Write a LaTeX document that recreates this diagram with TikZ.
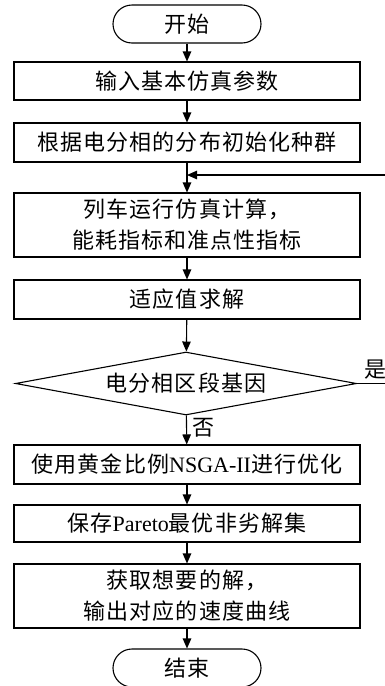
\documentclass[tikz,border=0pt]{standalone}
\usepackage{fontspec}
\setmainfont{Liberation Serif}
\newfontfamily\cjk[LetterSpace=5]{Noto Sans CJK SC}
\usetikzlibrary{shapes.geometric,arrows.meta}
\begin{document}
\begin{tikzpicture}[x=1pt,y=-1pt,
  every node/.style={font=\cjk\fontsize{22}{31}\selectfont},
  box/.style={draw, line width=1.1pt, minimum width=346pt, inner sep=0pt, align=center},
  term/.style={draw, line width=1.1pt, rounded corners=19pt, minimum width=148pt, minimum height=38pt, inner sep=0pt},
  dec/.style={draw, diamond, line width=1.1pt, aspect=5.4, minimum width=341pt, minimum height=63pt, inner sep=0pt},
  arr/.style={-{Triangle[length=10pt,width=8.5pt]}, line width=1.1pt},
  lbl/.style={inner sep=0pt}
]
\useasboundingbox (0,0) rectangle (385,686);
\clip (0,0) rectangle (385,686);
\node[term] (start) at (187,24) {开始};
\node[box, minimum height=38pt] (b1) at (187,81) {输入基本仿真参数};
\node[box, minimum height=39pt] (b2) at (187,142.5) {根据电分相的分布初始化种群};
\node[box, minimum height=64pt] (b3) at (187,225) {列车运行仿真计算，\\能耗指标和准点性指标};
\node[box, minimum height=39pt] (b4) at (187,299.5) {适应值求解};
\node[dec] (dia) at (186,383.5) {电分相区段基因};
\node[box, minimum height=39pt] (b5) at (187,464.5) {使用黄金比例{\rmfamily NSGA-II}进行优化};
\node[box, minimum height=37pt] (b6) at (187,523.5) {保存{\rmfamily Pareto}最优非劣解集};
\node[box, minimum height=64pt] (b7) at (187,596) {获取想要的解，\\输出对应的速度曲线};
\node[term] (end) at (187,668) {结束};
\coordinate (join) at (187,175);
\coordinate (rA) at (400,383.5);
\coordinate (rB) at (400,175);
\draw[arr] (start) -- (b1);
\draw[arr] (b1) -- (b2);
\draw[arr] (b2) -- (b3);
\draw[arr] (b3) -- (b4);
\draw[arr] (b4) -- (dia);
\draw[arr] (dia) -- (b5);
\node[lbl] (no) at (203,428) {否};
\draw[arr] (b5) -- (b6);
\draw[arr] (b6) -- (b7);
\draw[arr] (b7) -- (end);
\draw[arr] (dia.east) -- (rA) -- (rB) -- (join);
\node[lbl] (yes) at (375,370) {是};
\end{tikzpicture}
\end{document}
